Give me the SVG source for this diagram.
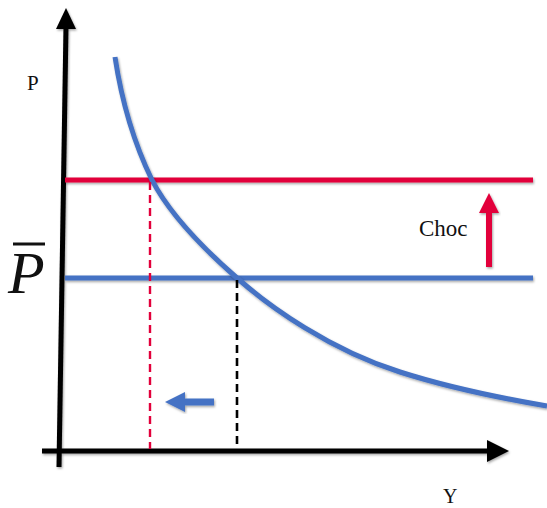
<svg xmlns="http://www.w3.org/2000/svg" width="547" height="508" viewBox="0 0 547 508">
<defs>
<filter id="sh" x="-10%" y="-10%" width="120%" height="120%">
<feDropShadow dx="1" dy="1.5" stdDeviation="1" flood-color="#000" flood-opacity="0.35"/>
</filter>
</defs>
<style>
.axis{stroke:#000;stroke-width:5;fill:none}
.head{fill:#000}
.blue{stroke:#4472C4;stroke-width:5;fill:none}
.red{stroke:#E2003B;stroke-width:5;fill:none}
.lbl{font-family:"Liberation Serif",serif;fill:#111}
</style>
<rect width="547" height="508" fill="#fff"/>
<g id="axes" filter="url(#sh)">
<line class="axis" x1="59" y1="467" x2="66" y2="26"/>
<polygon class="head" points="66,8 76,29 56,29"/>
<line class="axis" x1="42" y1="451" x2="490" y2="451"/>
<polygon class="head" points="509,451 487,440 487,462"/>
</g>
<g id="levels" filter="url(#sh)">
<line id="red-level" class="red" x1="65" y1="180" x2="533" y2="180"/>
<line id="blue-level" class="blue" x1="65" y1="278" x2="533" y2="278"/>
</g>
<g id="curve" filter="url(#sh)">
<path class="blue" d="M115,57 C120,90 130,135 152,180 C170,215 205,250 237,278 C270,307 330,350 400,372 C450,388 500,398 547,406"/>
</g>
<g id="connectors">
<line x1="150" y1="182" x2="150" y2="449" stroke="#E2003B" stroke-width="2.4" stroke-dasharray="8,5"/>
<line x1="237" y1="280" x2="237" y2="449" stroke="#000" stroke-width="2.6" stroke-dasharray="8,5"/>
</g>
<g id="shock-arrow" filter="url(#sh)">
<line x1="489" y1="267" x2="489" y2="210" stroke="#E2003B" stroke-width="6"/>
<polygon points="489,193 499,213 479,213" fill="#E2003B"/>
</g>
<g id="shift-arrow" filter="url(#sh)">
<line x1="214" y1="402" x2="182" y2="402" stroke="#4472C4" stroke-width="7"/>
<polygon points="165,402 185,392 185,412" fill="#4472C4"/>
</g>
<g id="labels">
<text class="lbl" x="27" y="90" font-size="21">P</text>
<text class="lbl" x="443" y="503" font-size="20">Y</text>
<text class="lbl" x="419" y="236" font-size="23">Choc</text>
<text class="lbl" x="8" y="293" font-size="60" font-style="italic">P</text>
<line x1="13" y1="244" x2="45" y2="244" stroke="#111" stroke-width="3"/>
</g>
</svg>
